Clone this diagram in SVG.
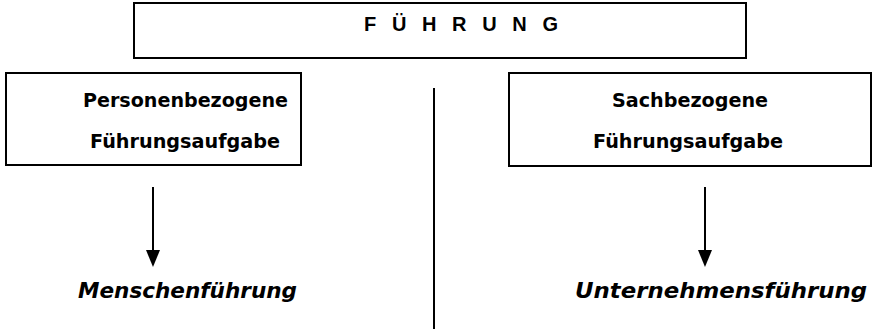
<svg xmlns="http://www.w3.org/2000/svg" width="877" height="333" viewBox="0 0 877 333">
<style>
  .box { fill: #fff; stroke: #000; stroke-width: 2; }
  .title { font-family: "Liberation Sans", Arial, sans-serif; font-weight: bold; font-size: 20px; fill: #000; }
  .lbl { font-family: "DejaVu Sans", Verdana, sans-serif; font-weight: bold; font-size: 19px; fill: #000; }
  .res { font-family: "DejaVu Sans", Verdana, sans-serif; font-weight: bold; font-style: italic; font-size: 22px; fill: #000; }
  .conn { stroke: #000; stroke-width: 2; fill: none; }
  .head { fill: #000; }
</style>
<rect width="877" height="333" fill="#fff"/>
<g id="fuehrung">
  <rect class="box" x="134" y="3" width="612" height="55"/>
  <text class="title" x="364" y="31" textLength="194" lengthAdjust="spacing">F Ü H R U N G</text>
</g>
<g id="personenbezogen">
  <rect class="box" x="6" y="73" width="295" height="92"/>
  <text class="lbl" x="83" y="107" textLength="205" lengthAdjust="spacingAndGlyphs">Personenbezogene</text>
  <text class="lbl" x="90" y="148" textLength="190" lengthAdjust="spacingAndGlyphs">Führungsaufgabe</text>
</g>
<g id="sachbezogen">
  <rect class="box" x="509" y="73" width="362" height="93"/>
  <text class="lbl" x="612" y="107" textLength="156" lengthAdjust="spacingAndGlyphs">Sachbezogene</text>
  <text class="lbl" x="593" y="148" textLength="190" lengthAdjust="spacingAndGlyphs">Führungsaufgabe</text>
</g>
<g id="menschenfuehrung">
  <text class="res" x="78" y="298" textLength="219" lengthAdjust="spacingAndGlyphs">Menschenführung</text>
</g>
<g id="unternehmensfuehrung">
  <text class="res" x="575" y="298" textLength="292" lengthAdjust="spacingAndGlyphs">Unternehmensführung</text>
</g>
<g id="connectors">
  <line class="conn" x1="434" y1="88" x2="434" y2="329"/>
  <line class="conn" x1="153" y1="187" x2="153" y2="251"/>
  <polygon class="head" points="146,250 160,250 153,267"/>
  <line class="conn" x1="705" y1="187" x2="705" y2="251"/>
  <polygon class="head" points="698,250 712,250 705,267"/>
</g>
</svg>
